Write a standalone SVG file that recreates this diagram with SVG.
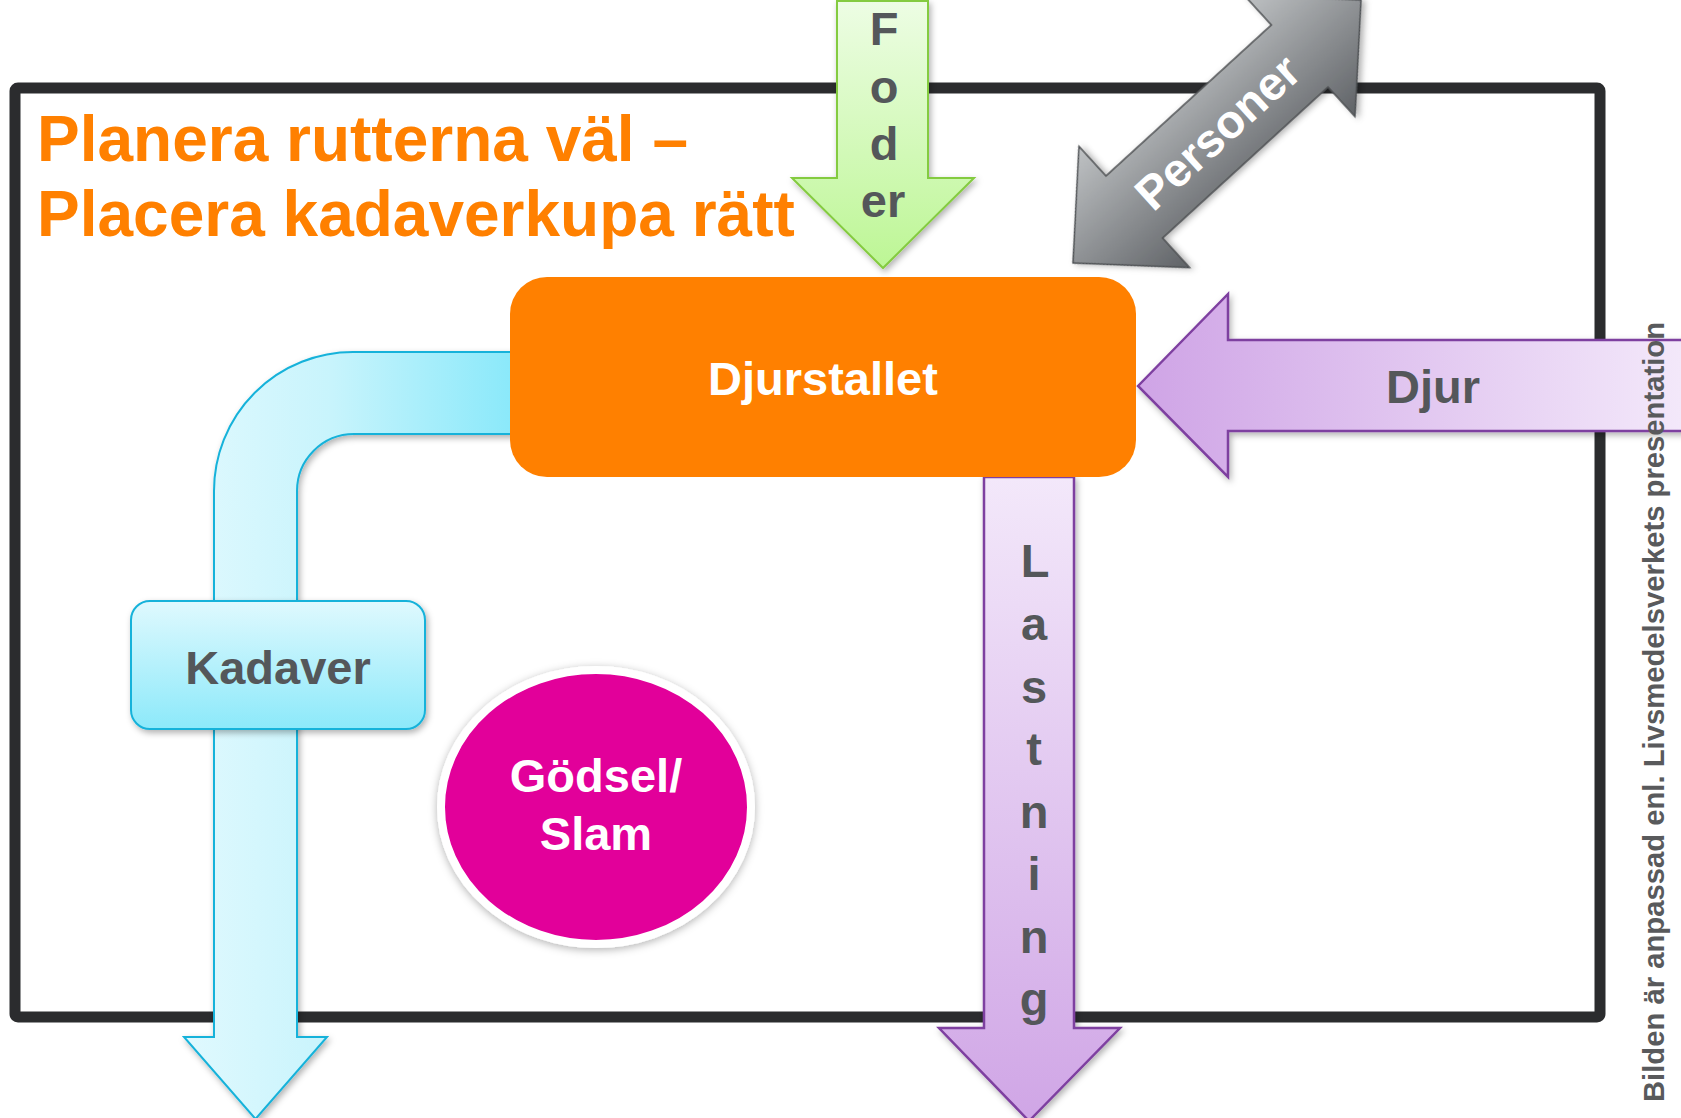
<svg xmlns="http://www.w3.org/2000/svg" width="1681" height="1118" viewBox="0 0 1681 1118">
  <style>
    .lbl { font-family: "Liberation Sans", Arial, sans-serif; font-weight: bold; font-size: 47px; fill: #54575A; text-anchor: middle; }
    .wht { fill: #FFFFFF; }
    .title { font-family: "Liberation Sans", Arial, sans-serif; font-weight: bold; font-size: 64px; fill: #FF8000; }
    .note { font-family: "Liberation Sans", Arial, sans-serif; font-weight: bold; font-size: 30px; fill: #595A5C; text-anchor: middle; }
  </style>
  <defs>
    <filter id="sh" x="-20%" y="-20%" width="140%" height="140%">
      <feDropShadow dx="2" dy="3" stdDeviation="3" flood-color="#000" flood-opacity="0.3"/>
    </filter>
    <filter id="shc" x="-20%" y="-20%" width="140%" height="140%">
      <feDropShadow dx="0" dy="2" stdDeviation="4" flood-color="#000" flood-opacity="0.3"/>
    </filter>
    <linearGradient id="gFoder" x1="0" y1="0" x2="0" y2="1">
      <stop offset="0" stop-color="#EDFDE4"/>
      <stop offset="1" stop-color="#BDF695"/>
    </linearGradient>
    <linearGradient id="gPers" gradientUnits="userSpaceOnUse" x1="0" y1="-82" x2="0" y2="82">
      <stop offset="0" stop-color="#BFC2C4"/>
      <stop offset="1" stop-color="#5F6266"/>
    </linearGradient>
    <linearGradient id="gDjur" gradientUnits="userSpaceOnUse" x1="1138" y1="0" x2="1681" y2="0">
      <stop offset="0" stop-color="#CFA4E6"/>
      <stop offset="1" stop-color="#F3E8FA"/>
    </linearGradient>
    <linearGradient id="gLast" gradientUnits="userSpaceOnUse" x1="0" y1="477" x2="0" y2="1118">
      <stop offset="0" stop-color="#F3E8FA"/>
      <stop offset="1" stop-color="#D0A6E6"/>
    </linearGradient>
    <linearGradient id="gPipe" gradientUnits="userSpaceOnUse" x1="184" y1="0" x2="510" y2="0">
      <stop offset="0" stop-color="#E0F9FE"/>
      <stop offset="0.45" stop-color="#C8F4FC"/>
      <stop offset="1" stop-color="#8BE9FA"/>
    </linearGradient>
    <linearGradient id="gKad" x1="0" y1="0" x2="0" y2="1">
      <stop offset="0" stop-color="#DFF9FE"/>
      <stop offset="1" stop-color="#8CE9FA"/>
    </linearGradient>
  </defs>

  <rect width="1681" height="1118" fill="#FFFFFF"/>

  <!-- frame -->
  <rect id="frame" x="15" y="88" width="1585" height="929" rx="3" fill="none" stroke="#2B2C2E" stroke-width="11"/>

  <!-- title -->
  <g id="title">
    <text class="title" x="37" y="161">Planera rutterna väl –</text>
    <text class="title" x="37" y="236">Placera kadaverkupa rätt</text>
  </g>

  <!-- connectors (flow arrows) -->
  <g id="connectors">
    <g id="kadaver-pipe">
      <path d="M530,352 H353 A139,139 0 0 0 214,491 V1037 H184 L255.5,1119 L327,1037 H297 V491 A57,57 0 0 1 354,434 H530 Z" fill="url(#gPipe)" stroke="#16B2DA" stroke-width="2" filter="url(#sh)"/>
    </g>
    <g id="foder-arrow">
      <path d="M837,1 H928 V178 H974 L883,268 L792,178 H837 Z" fill="url(#gFoder)" stroke="#84CB3F" stroke-width="2" filter="url(#sh)"/>
      <text class="lbl" x="884" y="45">F</text>
      <text class="lbl" x="884" y="102.5">o</text>
      <text class="lbl" x="884" y="159.5">d</text>
      <text class="lbl" x="883" y="216.5">er</text>
    </g>
    <g id="personer-arrow" transform="translate(1217,131.5) rotate(-42.4)">
      <polygon points="195,0 112,-82 112,-42 -112,-42 -112,-82 -195,0 -112,82 -112,42 112,42 112,82" fill="url(#gPers)" stroke="#4C4F52" stroke-width="1.5" filter="url(#sh)"/>
      <text class="lbl wht" x="0" y="17">Personer</text>
    </g>
    <g id="djur-arrow">
      <path d="M1138,386 L1228,294 V340 H1695 V431 H1228 V477 Z" fill="url(#gDjur)" stroke="#7E3FA0" stroke-width="2.5" filter="url(#sh)"/>
      <text class="lbl" x="1433" y="403">Djur</text>
    </g>
    <g id="lastning-arrow">
      <path d="M984,477 H1074 V1028 H1120 L1029,1121 L939,1028 H984 Z" fill="url(#gLast)" stroke="#7E3FA0" stroke-width="2.5" filter="url(#sh)"/>
      <text class="lbl" x="1035" y="577">L</text>
      <text class="lbl" x="1034" y="639.5">a</text>
      <text class="lbl" x="1034" y="702.5">s</text>
      <text class="lbl" x="1034" y="765">t</text>
      <text class="lbl" x="1034" y="828">n</text>
      <text class="lbl" x="1034" y="890">i</text>
      <text class="lbl" x="1034" y="953">n</text>
      <text class="lbl" x="1034" y="1015">g</text>
    </g>
  </g>

  <!-- nodes -->
  <g id="djurstallet">
    <rect x="510" y="277" width="626" height="200" rx="37" fill="#FF8000"/>
    <text class="lbl wht" x="823" y="395">Djurstallet</text>
  </g>

  <g id="kadaver">
    <rect x="131" y="601" width="294" height="128" rx="19" fill="url(#gKad)" stroke="#16B2DA" stroke-width="2" filter="url(#sh)"/>
    <text class="lbl" x="278" y="684">Kadaver</text>
  </g>

  <g id="godsel">
    <ellipse cx="596" cy="807" rx="155" ry="137" fill="#E2009A" stroke="#FFFFFF" stroke-width="8" filter="url(#shc)"/>
    <text class="lbl wht" x="596" y="792">Gödsel/</text>
    <text class="lbl wht" x="596" y="850">Slam</text>
  </g>

  <!-- side note -->
  <text class="note" transform="translate(1664,712) rotate(-90)" textLength="780" lengthAdjust="spacingAndGlyphs">Bilden är anpassad enl. Livsmedelsverkets presentation</text>
</svg>
